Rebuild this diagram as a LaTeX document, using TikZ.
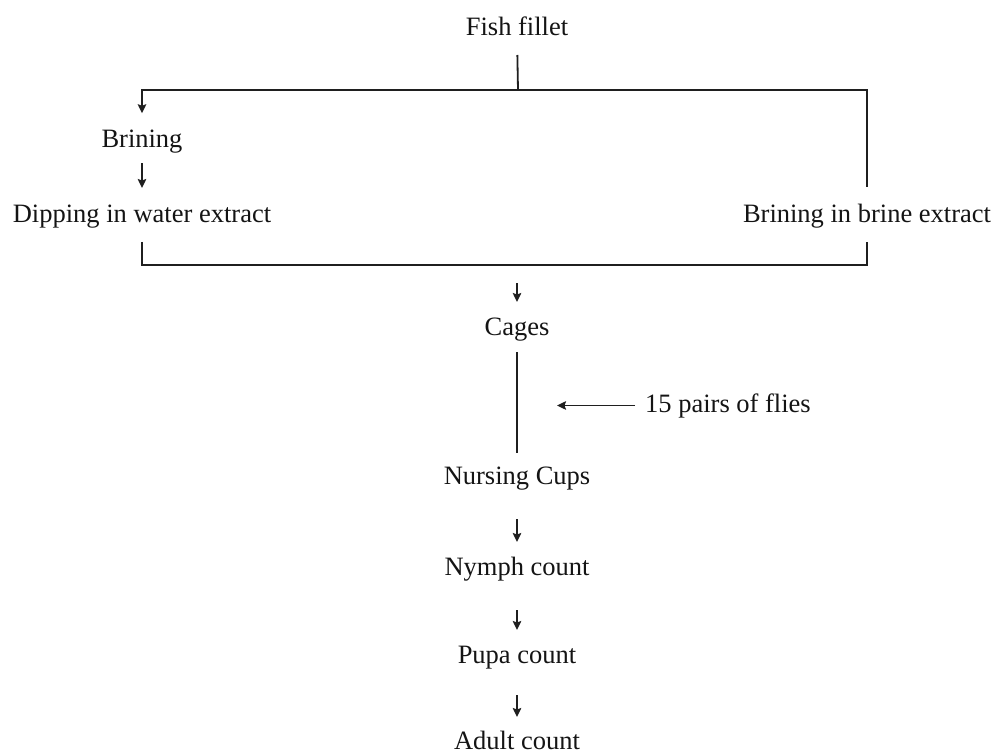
\documentclass[tikz,border=0pt]{standalone}
\usepackage{fontspec}
\setmainfont{Liberation Serif}
\usetikzlibrary{arrows.meta}
\begin{document}
\begin{tikzpicture}[x=1pt,y=-1pt,
  lbl/.style={anchor=base,inner sep=0pt,font=\fontsize{26.5}{30}\selectfont,text=black!92},
  ln/.style={line width=1.8pt,draw=black!88},
  arr/.style={ln,-{Stealth[length=9pt,width=8.5pt,inset=1.5pt]}}]
\useasboundingbox (0,0) rectangle (994,753);
% nodes
\node[lbl] (fish)    at (517,35)  {Fish fillet};
\node[lbl] (brining) at (142,147) {Brining};
\node[lbl] (dipping) at (142,222) {Dipping in water extract};
\node[lbl] (brine)   at (867,222) {Brining in brine extract};
\node[lbl] (cages)   at (517,335) {Cages};
\node[lbl] (nursing) at (517,484) {Nursing Cups};
\node[lbl] (nymph)   at (517,575) {Nymph count};
\node[lbl] (pupa)    at (517,663) {Pupa count};
\node[lbl] (adult)   at (517,749) {Adult count};
\node[lbl,anchor=base west] (flies) at (645,412) {15 pairs of flies};
% coordinates
\coordinate (split) at (518,90);
\coordinate (bjoin) at (517,265);
\coordinate (flytip) at (557,404);
% connectors
\draw[ln,shorten <=20pt] (fish.base) -- (split);
\draw[arr,shorten >=16pt] (split) -| (brining.north);
\draw[ln,shorten >=16pt] (split) -| (brine.north);
\draw[arr,shorten <=16pt,shorten >=34pt] (brining.base) -- (dipping.base);
\draw[ln,shorten <=14pt] (dipping.south) |- (bjoin);
\draw[ln,shorten >=14pt] (bjoin) -| (brine.south);
\draw[arr,shorten <=18pt,shorten >=33pt] (bjoin) -- (cages.base);
\draw[ln,shorten <=17pt,shorten >=31pt] (cages.base) -- (nursing.base);
\draw[arr,shorten <=10pt] (flies.west) -- (flytip |- flies.west);
\draw[arr,shorten <=35pt,shorten >=33pt] (nursing.base) -- (nymph.base);
\draw[arr,shorten <=35pt,shorten >=33pt] (nymph.base) -- (pupa.base);
\draw[arr,shorten <=32pt,shorten >=32pt] (pupa.base) -- (adult.base);
\end{tikzpicture}
\end{document}
